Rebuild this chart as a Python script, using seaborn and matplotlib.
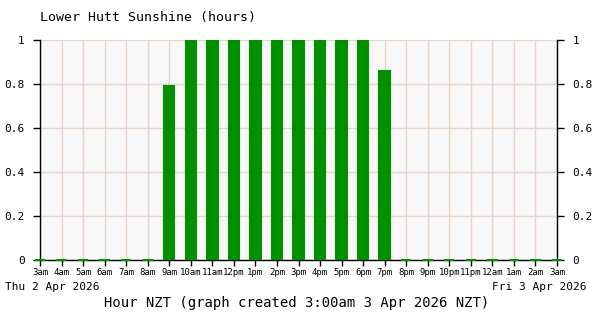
import matplotlib
matplotlib.use("Agg")
import matplotlib.pyplot as plt
import seaborn as sns
import pandas as pd

hours = ["3am", "4am", "5am", "6am", "7am", "8am", "9am", "10am", "11am", "12pm",
         "1pm", "2pm", "3pm", "4pm", "5pm", "6pm", "7pm", "8pm", "9pm", "10pm",
         "11pm", "12am", "1am", "2am", "3am "]
sunshine = [0, 0, 0, 0, 0, 0, 0.79, 1, 1, 1, 1, 1, 1, 1, 1, 1, 0.86, 0, 0, 0,
            0, 0, 0, 0, 0]
y_ticks = [0, 0.2, 0.4, 0.6, 0.8, 1]
y_labels = ["0", "0.2", "0.4", "0.6", "0.8", "1"]

df = pd.DataFrame({"hour": hours, "sun": sunshine})

sns.set_style("white")
plt.rcParams["font.family"] = ["DejaVu Sans Mono", "DejaVu Sans"]
plt.rcParams["text.color"] = "black"
plt.rcParams["xtick.color"] = "black"
plt.rcParams["ytick.color"] = "black"

fig = plt.figure(figsize=(6, 3.2), dpi=100)
ax = fig.add_axes([40 / 600, 1 - 260 / 320, 517 / 600, 220 / 320])
ax.set_facecolor("#f8f8f8")

sns.barplot(data=df, x="hour", y="sun", order=hours, color="#009000",
            saturation=1, width=0.48, edgecolor="#009000", linewidth=1.5,
            ax=ax, zorder=5)
for p in ax.patches:
    if p.get_height() == 0:
        p.set_clip_on(False)

ax.set_xlim(0, 24)
ax.set_ylim(0, 1)
ax.set_xticks(range(len(hours)))
ax.set_xticklabels([h.strip() for h in hours], fontsize=6.5)
ax.set_yticks(y_ticks)
ax.set_yticklabels(y_labels, fontsize=8)

ax.grid(True, color="#e8d4c8", linewidth=1, zorder=0)
ax.set_axisbelow(True)

ax.spines["top"].set_visible(False)
for s in ["left", "bottom", "right"]:
    ax.spines[s].set_color("black")
    ax.spines[s].set_linewidth(1)
    ax.spines[s].set_zorder(2.5)

ax.tick_params(axis="y", which="both", left=True, right=True, labelleft=True,
               labelright=True, length=5, width=1, color="black", pad=6)
ax.tick_params(axis="x", bottom=True, length=4, width=1, color="black", pad=2)

ax.set_xlabel("")
ax.set_ylabel("")

fig.text(40 / 600, 1 - 18 / 320, "Lower Hutt Sunshine (hours)", fontsize=9.5,
         ha="left", va="center")
fig.text(5 / 600, 1 - 287 / 320, "Thu 2 Apr 2026", fontsize=8, ha="left", va="center")
fig.text(586 / 600, 1 - 287 / 320, "Fri 3 Apr 2026", fontsize=8, ha="right", va="center")
fig.text(297 / 600, 1 - 303 / 320, "Hour NZT (graph created 3:00am 3 Apr 2026 NZT)",
         fontsize=10, ha="center", va="center")

fig.savefig("out.png", dpi=100, facecolor="white")
